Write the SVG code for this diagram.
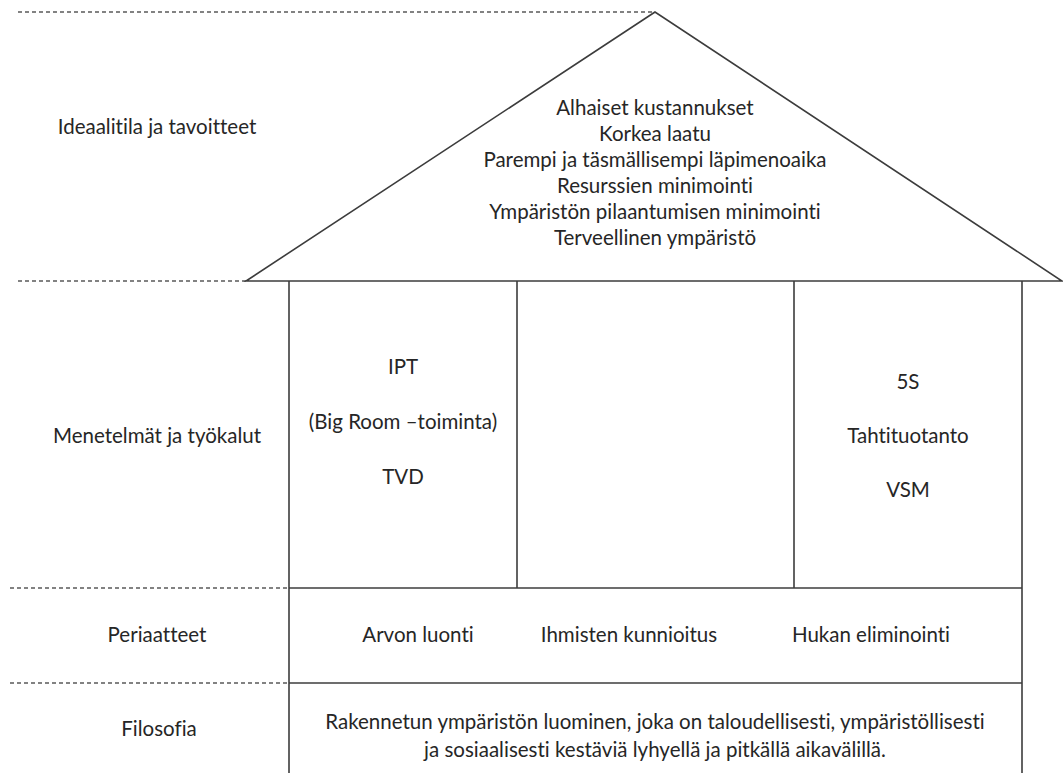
<svg xmlns="http://www.w3.org/2000/svg" width="1063" height="773" viewBox="0 0 1063 773">
  <style>
    .solid { stroke: #3c3c3c; stroke-width: 1.6; fill: none; }
    .guide { stroke: #5a5a5a; stroke-width: 1.4; stroke-dasharray: 4 3; fill: none; }
    text { font-family: Lato, "Liberation Sans", sans-serif; font-size: 20.5px; fill: #262626; text-anchor: middle; font-variant-ligatures: none; }
  </style>
  <rect x="0" y="0" width="1063" height="773" fill="#ffffff"/>

  <!-- level guides on the left -->
  <g id="guides">
    <line class="guide" x1="18" y1="12" x2="655" y2="12"/>
    <line class="guide" x1="18" y1="281" x2="246" y2="281"/>
    <line class="guide" x1="10" y1="588" x2="289" y2="588"/>
    <line class="guide" x1="10" y1="683" x2="289" y2="683"/>
  </g>

  <!-- level names -->
  <g id="level-labels">
    <text x="157" y="134">Ideaalitila ja tavoitteet</text>
    <text x="157" y="443">Menetelmät ja työkalut</text>
    <text x="157" y="642">Periaatteet</text>
    <text x="159" y="736">Filosofia</text>
  </g>

  <!-- roof: goals -->
  <g id="roof">
    <polygon class="solid" points="655,12 246,281 1062,281"/>
    <text x="655" y="115">Alhaiset kustannukset</text>
    <text x="655" y="141">Korkea laatu</text>
    <text x="655" y="167">Parempi ja täsmällisempi läpimenoaika</text>
    <text x="655" y="193">Resurssien minimointi</text>
    <text x="655" y="219">Ympäristön pilaantumisen minimointi</text>
    <text x="655" y="245">Terveellinen ympäristö</text>
  </g>

  <!-- walls and floors -->
  <g id="frame">
    <line class="solid" x1="289" y1="281" x2="289" y2="773"/>
    <line class="solid" x1="1022" y1="281" x2="1022" y2="773"/>
    <line class="solid" x1="517" y1="281" x2="517" y2="588"/>
    <line class="solid" x1="794" y1="281" x2="794" y2="588"/>
    <line class="solid" x1="289" y1="588" x2="1022" y2="588"/>
    <line class="solid" x1="289" y1="683" x2="1022" y2="683"/>
  </g>

  <!-- methods and tools -->
  <g id="pillar-left">
    <text x="403" y="374">IPT</text>
    <text x="403" y="429">(Big Room –toiminta)</text>
    <text x="403" y="484">TVD</text>
  </g>
  <g id="pillar-middle"/>
  <g id="pillar-right">
    <text x="908" y="389">5S</text>
    <text x="908" y="443">Tahtituotanto</text>
    <text x="908" y="497">VSM</text>
  </g>

  <!-- principles -->
  <g id="principles">
    <text x="418" y="642">Arvon luonti</text>
    <text x="629" y="642">Ihmisten kunnioitus</text>
    <text x="871" y="642">Hukan eliminointi</text>
  </g>

  <!-- philosophy -->
  <g id="philosophy">
    <text x="655" y="729">Rakennetun ympäristön luominen, joka on taloudellisesti, ympäristöllisesti</text>
    <text x="655" y="757">ja sosiaalisesti kestäviä lyhyellä ja pitkällä aikavälillä.</text>
  </g>
</svg>
